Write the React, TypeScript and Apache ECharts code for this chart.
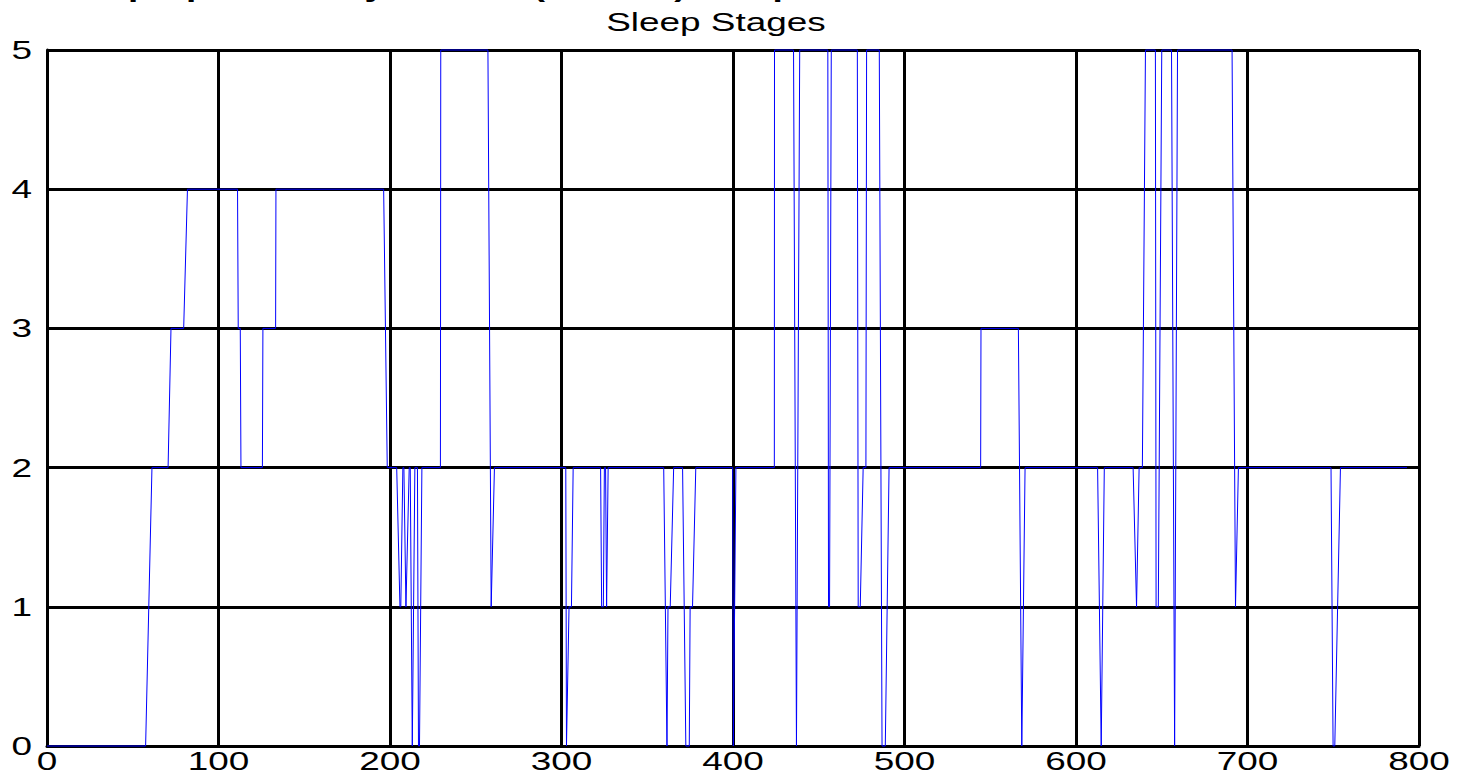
import React, { useEffect, useRef } from "react";
import * as echarts from "echarts";

// Hypnogram vertices (epoch, stage)
const epochX: number[] = [
  0, 57.5, 61.2, 70.6, 72.3, 79.7, 81.9, 111.1, 111.5, 112.7, 113.1, 125.6, 125.9, 133.3, 133.5,
  196.3, 198.4, 203.9, 205.8, 206.3, 207.5, 208.1, 209.3, 209.7, 211.2, 211.8, 213.0, 213.4, 214.5,
  216.0, 216.6, 217.2, 218.6, 229.4, 229.6, 257.1, 259.0, 260.9, 302.5, 302.9, 304.4, 305.8, 306.8,
  322.8, 323.4, 324.4, 325.0, 325.7, 326.3, 326.6, 327.2, 359.6, 361.5, 362.1, 363.4, 365.4, 370.6,
  372.5, 374.5, 375.0, 376.4, 378.3, 399.8, 400.2, 401.7, 424.1, 424.2, 435.3, 437.0, 438.9, 455.3,
  455.7, 456.3, 457.3, 472.5, 473.0, 474.2, 475.9, 477.5, 477.9, 485.3, 486.9, 488.8, 491.0, 544.4,
  544.6, 566.4, 568.4, 570.3, 612.6, 614.7, 616.5, 633.3, 635.3, 636.8, 638.7, 640.5, 646.3, 646.7,
  648.0, 650.0, 655.7, 657.5, 659.2, 691.0, 693.0, 694.7, 748.7, 749.9, 750.9, 754.2, 793.0,
];
const stageY: number[] = [
  0, 0, 2, 2, 3, 3, 4, 4, 3, 3, 2, 2, 3, 3, 4,
  4, 2, 2, 1, 1, 2, 2, 1, 1, 2, 2, 0, 0, 2,
  2, 0, 0, 2, 2, 5, 5, 1, 2, 2, 0, 1, 1, 2,
  2, 1, 1, 2, 2, 1, 1, 2, 2, 0, 1, 1, 2, 2,
  0, 0, 1, 1, 2, 2, 0, 2, 2, 5, 5, 0, 5, 5,
  1, 1, 5, 5, 1, 1, 2, 2, 5, 5, 0, 0, 2, 2,
  3, 3, 0, 2, 2, 0, 2, 2, 1, 2, 2, 5, 5, 1,
  1, 5, 5, 0, 5, 5, 1, 2, 2, 0, 0, 2, 2,
];

const xTicks: number[] = [0, 100, 200, 300, 400, 500, 600, 700, 800];
const yTicks: number[] = [0, 1, 2, 3, 4, 5];
const axesTitle = "Sleep Stages";
const figureTitle = "Sleep Apnea Study Record (manual) Sleep Score";

export default function App() {
  const ref = useRef<HTMLDivElement>(null);

  useEffect(() => {
    const chart = echarts.init(ref.current!, null, { renderer: "svg" });
    const blackLine = { show: true, lineStyle: { color: "#000000", width: 3 } };
    chart.setOption({
      animation: false,
      backgroundColor: "#ffffff",
      grid: { left: 47, right: 39, top: 50, bottom: 33 },
      xAxis: {
        type: "value",
        min: 0,
        max: 800,
        interval: 100,
        axisLine: { show: true, lineStyle: { color: "#000000", width: 3 } },
        axisTick: { show: false },
        axisLabel: { show: false },
        splitLine: blackLine,
      },
      yAxis: {
        type: "value",
        min: 0,
        max: 5,
        interval: 1,
        axisLine: { show: true, lineStyle: { color: "#000000", width: 3 } },
        axisTick: { show: false },
        axisLabel: { show: false },
        splitLine: blackLine,
      },
      series: [
        {
          type: "line",
          data: epochX.map((x, i) => [x, stageY[i]]),
          showSymbol: false,
          symbol: "none",
          clip: false,
          lineStyle: { color: "#0000ff", width: 1 },
          z: 5,
        },
      ],
    });

    const fs = 26;
    const sx = 1.42;
    const family = "'Liberation Sans', Arial, Helvetica, sans-serif";
    const graphics: any[] = [];
    xTicks.forEach((v) => {
      const p = chart.convertToPixel({ gridIndex: 0 }, [v, 0]) as number[];
      graphics.push({
        type: "text",
        x: p[0],
        y: p[1] + 2,
        scaleX: sx,
        silent: true,
        style: {
          text: String(v),
          fontSize: fs,
          fontFamily: family,
          fill: "#000000",
          align: "center",
          verticalAlign: "top",
        },
      });
    });
    yTicks.forEach((v) => {
      const p = chart.convertToPixel({ gridIndex: 0 }, [0, v]) as number[];
      graphics.push({
        type: "text",
        x: p[0] - 15,
        y: p[1],
        scaleX: sx,
        silent: true,
        style: {
          text: String(v),
          fontSize: fs,
          fontFamily: family,
          fill: "#000000",
          align: "right",
          verticalAlign: "middle",
        },
      });
    });
    const left = chart.convertToPixel({ gridIndex: 0 }, [0, 5]) as number[];
    const right = chart.convertToPixel({ gridIndex: 0 }, [800, 5]) as number[];
    graphics.push({
      type: "text",
      x: (left[0] + right[0]) / 2 - 17,
      y: left[1] - 28,
      scaleX: sx,
      silent: true,
      style: {
        text: axesTitle,
        fontSize: fs,
        fontFamily: family,
        fill: "#000000",
        align: "center",
        verticalAlign: "middle",
      },
    });
    graphics.push({
      type: "text",
      x: 52,
      y: -12,
      scaleX: sx,
      silent: true,
      style: {
        text: figureTitle,
        fontSize: fs,
        fontWeight: "bold",
        fontFamily: family,
        fill: "#000000",
        align: "left",
        verticalAlign: "middle",
      },
    });
    chart.setOption({ graphic: graphics });

    return () => chart.dispose();
  }, []);

  return (
    <div
      ref={ref}
      style={{ position: "fixed", left: 0, top: 0, width: 1458, height: 779, background: "#fff" }}
    />
  );
}
